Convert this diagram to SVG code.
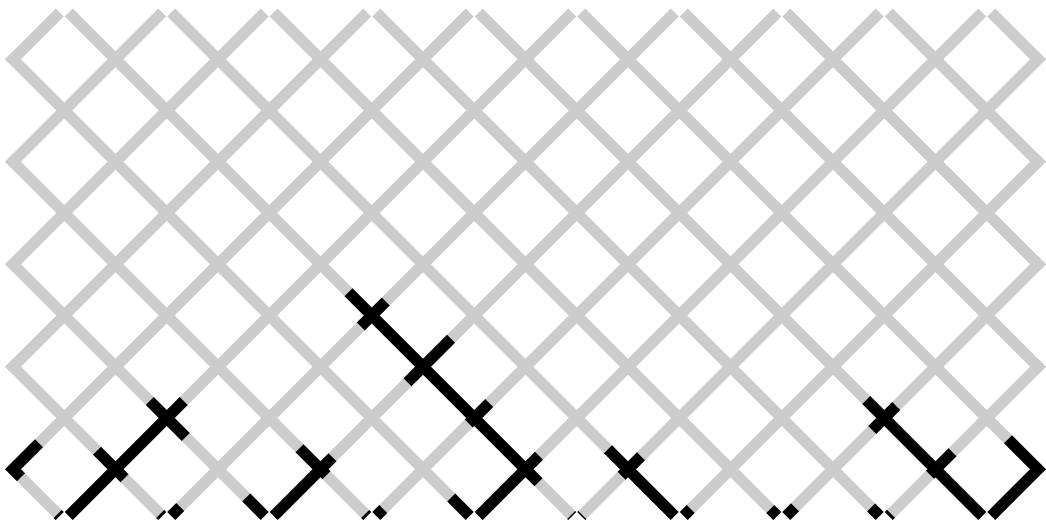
<svg xmlns="http://www.w3.org/2000/svg" width="1046" height="525" viewBox="0 0 1046 525">
<style>
.g{stroke:#cccccc;stroke-width:11.3;fill:none;stroke-linecap:butt}
.k{stroke:#000000;stroke-width:11.3;fill:none;stroke-linecap:butt}
</style>
<rect width="1046" height="525" fill="#ffffff"/>
<g id="lattice">
<path class="g" d="M9,465.25L59.75,516 M9,362.75L162.25,516 M9,260.25L264.75,516 M9,157.75L367.25,516 M9,55.25L469.75,516 M68.75,12.5L572.25,516 M171.25,12.5L674.75,516 M273.75,12.5L777.25,516 M376.25,12.5L879.75,516 M478.75,12.5L982.25,516 M581.25,12.5L1042,473.25 M683.75,12.5L1042,370.75 M786.25,12.5L1042,268.25 M888.75,12.5L1042,165.75 M991.25,12.5L1042,63.25"/>
<path class="g" d="M9,63.25L59.75,12.5 M9,165.75L162.25,12.5 M9,268.25L264.75,12.5 M9,370.75L367.25,12.5 M9,473.25L469.75,12.5 M68.75,516L572.25,12.5 M171.25,516L674.75,12.5 M273.75,516L777.25,12.5 M376.25,516L879.75,12.5 M478.75,516L982.25,12.5 M581.25,516L1042,55.25 M683.75,516L1042,157.75 M786.25,516L1042,260.25 M888.75,516L1042,362.75 M991.25,516L1042,465.25"/>
</g>
<g id="highlights">
<g id="path-a">
<path class="k" d="M68.75,516L183.75,401 M166.75,418L149.75,401 M166.75,418L185.75,437 M115.5,469.25L97,450.75 M115.5,469.25L124.5,478.25 M9,473.25L39,443.25 M13,469.25L21,477.25 M57.65,513.9L59.75,516 M160.15,513.9L162.25,516 M171.25,516L180.25,507"/>
</g>
<g id="path-b">
<path class="k" d="M273.75,516L332.5,457.25 M320.5,469.25L299.5,448.25 M320.5,469.25L326.5,475.25 M246.25,497.5L264.75,516 M365.15,513.9L367.25,516 M376.25,516L383.25,509"/>
</g>
<g id="path-c">
<path class="k" d="M348.5,292.25L538.5,482.25 M371.75,315.5L385.75,301.5 M371.75,315.5L360.75,326.5 M423,366.75L451,338.75 M423,366.75L407.5,382.25 M474.25,418L489.25,403 M474.25,418L468.75,423.5 M525.5,469.25L539,455.75 M478.75,516L525.5,469.25 M451.25,497.5L469.75,516 M571.15,514.9L572.25,516 M581.25,516L582.35,514.9"/>
</g>
<g id="path-d">
<path class="k" d="M608,449.25L674.75,516 M628,469.25L641,456.25 M628,469.25L621.5,475.75 M683.75,516L690.75,509 M770.25,509L777.25,516 M786.25,516L795,507.25"/>
</g>
<g id="path-e">
<path class="k" d="M866.25,400L982.25,516 M884.25,418L896.25,406 M884.25,418L872.25,430 M935.5,469.25L952.5,452.25 M935.5,469.25L930,474.75 M991.25,516L1042,465.25 M1008,439.25L1042,473.25 M871.15,507.4L879.75,516 M888.75,516L891,513.75"/>
</g>
</g>
</svg>
